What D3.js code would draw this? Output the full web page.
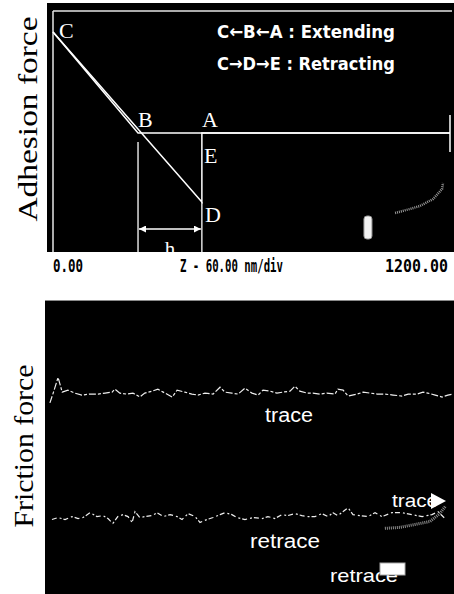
<!DOCTYPE html>
<html>
<head>
<meta charset="utf-8">
<script src="https://cdn.jsdelivr.net/npm/d3@7"></script>
<style>
  body { margin: 0; background: #ffffff; }
  svg { display: block; }
</style>
</head>
<body>
<div id="canvas"></div>
<script>
// ---- data: adhesion (force-distance) curve, Z in nm, deflection in arb. units
let extendZ = [1200, 450, 257, 0]
let extendF = [0, 0, 0, 5.05]
let retractZ = [0, 450, 450, 1200]
let retractF = [5.05, -3.45, 0, 0]
let pointNames = ['C', 'B', 'A', 'E', 'D']
let pointZ = [0, 257, 450, 450, 450]
let pointF = [5.05, 0, 0, 0, -3.45]
let hZ = [257, 450]
let ghostZ = [1034, 1079, 1109, 1149, 1176, 1179]
let ghostF = [-4.0, -3.8, -3.65, -3.3, -2.8, -2.5]
let zTickLabels = ['0.00', 'Z - 60.00 nm/div', '1200.00']
let legendLines = ['C\u2190B\u2190A : Extending', 'C\u2192D\u2192E : Retracting']

// ---- data: friction loop, scan position 0-100, signal in mV
let tracePos = [1.2, 2.0, 3.2, 4.2, 5.6, 7.3, 9.0, 11.0, 13.0, 14.7, 16.4, 17.1, 18.3, 20.0, 21.5, 23.2,
    24.4, 26.2, 27.6, 28.9, 31.1, 32.3, 34.2, 35.9, 37.4, 39.1, 41.1, 42.8, 44.0, 45.7, 47.2, 48.9,
    50.6, 52.1, 53.3, 55.0, 56.7, 58.2, 59.9, 61.1, 62.3, 64.1, 65.5, 67.2, 68.9, 70.9, 71.6, 72.9,
    74.1, 76.3, 77.8, 79.5, 81.2, 83.1, 85.1, 87.3, 88.8, 91.0, 92.4, 93.6, 95.4, 97.1, 98.5, 99.8]
let traceVals = [45, 55, 71, 56, 58, 55, 53, 54, 54, 55, 56, 59, 55, 54, 55, 51,
    55, 57, 59, 56, 51, 58, 56, 54, 53, 55, 54, 61, 56, 55, 54, 60,
    55, 53, 58, 57, 55, 56, 57, 62, 57, 55, 55, 54, 55, 54, 59, 58,
    52, 54, 56, 55, 54, 54, 53, 52, 54, 54, 56, 55, 53, 51, 53, 54]
let retracePos = [1.7, 3.2, 4.9, 6.6, 8.1, 9.3, 11.0, 12.7, 14.2, 15.4, 16.6, 17.8, 19.1, 20.3, 21.3, 22.0,
    23.2, 24.4, 26.2, 27.4, 28.9, 30.6, 32.3, 33.5, 35.0, 36.7, 37.9, 39.6, 41.1, 42.8, 44.0, 45.7,
    46.9, 48.9, 50.9, 53.1, 54.5, 56.2, 57.9, 59.4, 61.1, 62.8, 64.3, 66.0, 67.7, 69.2, 70.4, 71.6,
    74.1, 75.3, 77.0, 79.0, 80.7, 82.4, 84.8, 87.3, 89.7, 92.2, 94.6, 96.1, 97.8]
let retraceVals = [-74, -72, -74, -71, -73, -72, -67, -71, -70, -73, -78, -71, -69, -71, -77, -66,
    -72, -71, -70, -67, -71, -69, -71, -74, -68, -71, -77, -74, -72, -69, -67, -69,
    -72, -74, -72, -73, -71, -73, -69, -70, -68, -70, -71, -71, -68, -71, -67, -70,
    -62, -69, -70, -71, -67, -71, -67, -67, -69, -71, -69, -66, -73]
let frictionGhostPos = [83.1, 86.8, 90.5, 94.1, 96.5, 98.0]
let frictionGhostVals = [-83, -82, -79, -76, -68, -60]

let svg = d3.select('#canvas')
    .append('svg')
    .attr('width', 454)
    .attr('height', 594)

// arrow heads for the "h" marker
let defs = svg.append('defs')
defs.append('marker')
    .attr('id', 'head')
    .attr('viewBox', '0 0 10 10')
    .attr('refX', 10).attr('refY', 5)
    .attr('markerWidth', 7).attr('markerHeight', 7)
    .attr('markerUnits', 'userSpaceOnUse')
    .attr('orient', 'auto-start-reverse')
    .append('path')
    .attr('d', 'M0 0 L10 5 L0 10 Z')
    .attr('fill', 'white')
defs.append('clipPath')
    .attr('id', 'topclip')
    .append('rect')
    .attr('x', 47).attr('y', 3).attr('width', 407).attr('height', 249)

// ================= TOP PANEL : adhesion force =================
let x1 = d3.scaleLinear().domain([0, 1200]).range([53, 450])
let y1 = d3.scaleLinear().domain([-6, 6]).range([253, 13])

svg.append('rect')
    .attr('x', 47).attr('y', 3)
    .attr('width', 407).attr('height', 249)
    .attr('fill', 'black')

let topPanel = svg.append('g').attr('clip-path', 'url(#topclip)')

// frame lines (top + left)
topPanel.append('line')
    .attr('x1', x1(0)).attr('x2', 452)
    .attr('y1', 11).attr('y2', 11)
    .attr('stroke', '#e6e6e6').attr('stroke-width', 1.5)
topPanel.append('line')
    .attr('x1', x1(0)).attr('x2', x1(0))
    .attr('y1', 11).attr('y2', 252)
    .attr('stroke', '#e6e6e6').attr('stroke-width', 1.5)

// right end tick
topPanel.append('line')
    .attr('x1', x1(1200)).attr('x2', x1(1200))
    .attr('y1', y1(0.9)).attr('y2', y1(-0.95))
    .attr('stroke', 'white').attr('stroke-width', 1.5)

let curve = d3.line()
    .x(d => x1(d[0]))
    .y(d => y1(d[1]))

topPanel.append('path')
    .datum(d3.zip(extendZ, extendF))
    .attr('d', curve)
    .attr('fill', 'none')
    .attr('stroke', 'white')
    .attr('stroke-width', 1.5)

topPanel.append('path')
    .datum(d3.zip(retractZ, retractF))
    .attr('d', curve)
    .attr('fill', 'none')
    .attr('stroke', 'white')
    .attr('stroke-width', 1.5)

// h marker: two verticals and a double arrow
topPanel.append('line')
    .attr('x1', x1(hZ[0])).attr('x2', x1(hZ[0]))
    .attr('y1', y1(-0.45)).attr('y2', y1(-6))
    .attr('stroke', 'white').attr('stroke-width', 1.3)
topPanel.append('line')
    .attr('x1', x1(hZ[1])).attr('x2', x1(hZ[1]))
    .attr('y1', y1(-3.45)).attr('y2', y1(-6))
    .attr('stroke', 'white').attr('stroke-width', 1.3)
topPanel.append('line')
    .attr('x1', x1(hZ[0]) + 1).attr('x2', x1(hZ[1]) - 1)
    .attr('y1', y1(-4.8)).attr('y2', y1(-4.8))
    .attr('stroke', 'white').attr('stroke-width', 1.5)
    .attr('marker-start', 'url(#head)')
    .attr('marker-end', 'url(#head)')
topPanel.append('text')
    .attr('x', (x1(hZ[0]) + x1(hZ[1])) / 2)
    .attr('y', 256)
    .attr('text-anchor', 'middle')
    .style('font-family', '"Liberation Serif", serif')
    .style('font-size', '21px')
    .attr('fill', 'white')
    .text('h')

// faint screen artifacts
topPanel.append('path')
    .datum(d3.zip(ghostZ, ghostF))
    .attr('d', curve)
    .attr('fill', 'none')
    .attr('stroke', '#9a9a9a')
    .attr('stroke-width', 2.5)
    .attr('stroke-dasharray', '1 1')
topPanel.append('rect')
    .attr('x', x1(952) - 4).attr('y', y1(-4.15))
    .attr('width', 8).attr('height', y1(-5.3) - y1(-4.15))
    .attr('rx', 3)
    .attr('fill', '#f2f2f2')
    .attr('stroke', '#999').attr('stroke-width', 1)

// point letters
let letterDx = { C: 6, B: 0, A: 0, E: 2, D: 3 }
let letterDy = { C: 6, B: -6, A: -6, E: 30, D: 20 }
topPanel.selectAll('text.pt')
    .data(pointNames)
    .enter()
    .append('text')
    .attr('class', 'pt')
    .attr('x', (d, i) => x1(pointZ[i]) + letterDx[d])
    .attr('y', (d, i) => y1(pointF[i]) + letterDy[d])
    .style('font-family', '"Liberation Serif", serif')
    .style('font-size', '22px')
    .attr('fill', 'white')
    .text(d => d)

// legend text
topPanel.selectAll('text.leg')
    .data(legendLines)
    .enter()
    .append('text')
    .attr('class', 'leg')
    .attr('x', 217)
    .attr('y', (d, i) => 38 + i * 32)
    .attr('textLength', 178)
    .attr('lengthAdjust', 'spacingAndGlyphs')
    .style('font-family', '"DejaVu Sans Condensed", "DejaVu Sans", sans-serif')
    .style('font-weight', 'bold')
    .style('font-size', '18px')
    .attr('fill', 'white')
    .text(d => d)

// z axis labels under the panel (tall, narrow terminal glyphs)
let zLabelX = [53, 180, 385]
let zLabelW = [30, 103, 63]
svg.selectAll('g.zl')
    .data(zTickLabels)
    .enter()
    .append('g')
    .attr('class', 'zl')
    .attr('transform', (d, i) => `translate(${zLabelX[i]},272) scale(1,1.2)`)
    .append('text')
    .attr('textLength', (d, i) => zLabelW[i])
    .attr('lengthAdjust', 'spacingAndGlyphs')
    .style('font-family', '"DejaVu Sans Mono", monospace')
    .style('font-weight', 'bold')
    .style('font-size', '15px')
    .attr('fill', 'black')
    .text(d => d)

// y axis title
svg.append('text')
    .attr('transform', 'translate(37,119) rotate(-90)')
    .attr('text-anchor', 'middle')
    .attr('textLength', 205)
    .attr('lengthAdjust', 'spacingAndGlyphs')
    .style('font-family', '"Liberation Serif", serif')
    .style('font-size', '28px')
    .attr('fill', 'black')
    .text('Adhesion force')

// ================= BOTTOM PANEL : friction force =================
let x2 = d3.scaleLinear().domain([0, 100]).range([45, 454])
let y2 = d3.scaleLinear().domain([-150, 150]).range([594, 300])

svg.append('rect')
    .attr('x', 45).attr('y', 300)
    .attr('width', 409).attr('height', 294)
    .attr('fill', 'black')
svg.append('line')
    .attr('x1', 45).attr('x2', 454)
    .attr('y1', 300.5).attr('y2', 300.5)
    .attr('stroke', '#8a8a8a').attr('stroke-width', 1)

let fline = d3.line()
    .x(d => x2(d[0]))
    .y(d => y2(d[1]))

svg.append('path')
    .datum(d3.zip(tracePos, traceVals))
    .attr('d', fline)
    .attr('fill', 'none')
    .attr('stroke', '#eeeeee')
    .attr('stroke-width', 1.2)
    .attr('stroke-dasharray', '7 2 3 2')

svg.append('path')
    .datum(d3.zip(retracePos, retraceVals))
    .attr('d', fline)
    .attr('fill', 'none')
    .attr('stroke', '#eeeeee')
    .attr('stroke-width', 1.2)
    .attr('stroke-dasharray', '5 3 2 2')

svg.append('path')
    .datum(d3.zip(frictionGhostPos, frictionGhostVals))
    .attr('d', fline)
    .attr('fill', 'none')
    .attr('stroke', '#8f8f8f')
    .attr('stroke-width', 3)
    .attr('stroke-dasharray', '1 1')

let fontSans = '"Liberation Sans", Arial, sans-serif'

svg.append('text')
    .attr('x', 265).attr('y', 422)
    .attr('textLength', 48)
    .attr('lengthAdjust', 'spacingAndGlyphs')
    .style('font-family', fontSans)
    .style('font-size', '20px')
    .attr('fill', 'white')
    .text('trace')

svg.append('text')
    .attr('x', 250).attr('y', 548)
    .attr('textLength', 70)
    .attr('lengthAdjust', 'spacingAndGlyphs')
    .style('font-family', fontSans)
    .style('font-size', '20px')
    .attr('fill', 'white')
    .text('retrace')

// small legend in the corner: trace -> , retrace [box]
svg.append('text')
    .attr('x', 392).attr('y', 507)
    .attr('textLength', 46)
    .attr('lengthAdjust', 'spacingAndGlyphs')
    .style('font-family', fontSans)
    .style('font-size', '19px')
    .attr('fill', 'white')
    .text('trace')
svg.append('polygon')
    .attr('points', '431,493 446,501 431,509')
    .attr('fill', 'white')

svg.append('text')
    .attr('x', 330).attr('y', 582)
    .attr('textLength', 68)
    .attr('lengthAdjust', 'spacingAndGlyphs')
    .style('font-family', fontSans)
    .style('font-size', '19px')
    .attr('fill', 'white')
    .text('retrace')
svg.append('rect')
    .attr('x', 380).attr('y', 563)
    .attr('width', 25).attr('height', 12)
    .attr('fill', 'white')
    .attr('stroke', '#aaaaaa').attr('stroke-width', 1)

svg.append('text')
    .attr('transform', 'translate(33,446) rotate(-90)')
    .attr('text-anchor', 'middle')
    .attr('textLength', 163)
    .attr('lengthAdjust', 'spacingAndGlyphs')
    .style('font-family', '"Liberation Serif", serif')
    .style('font-size', '28px')
    .attr('fill', 'black')
    .text('Friction force')
</script>
</body>
</html>
